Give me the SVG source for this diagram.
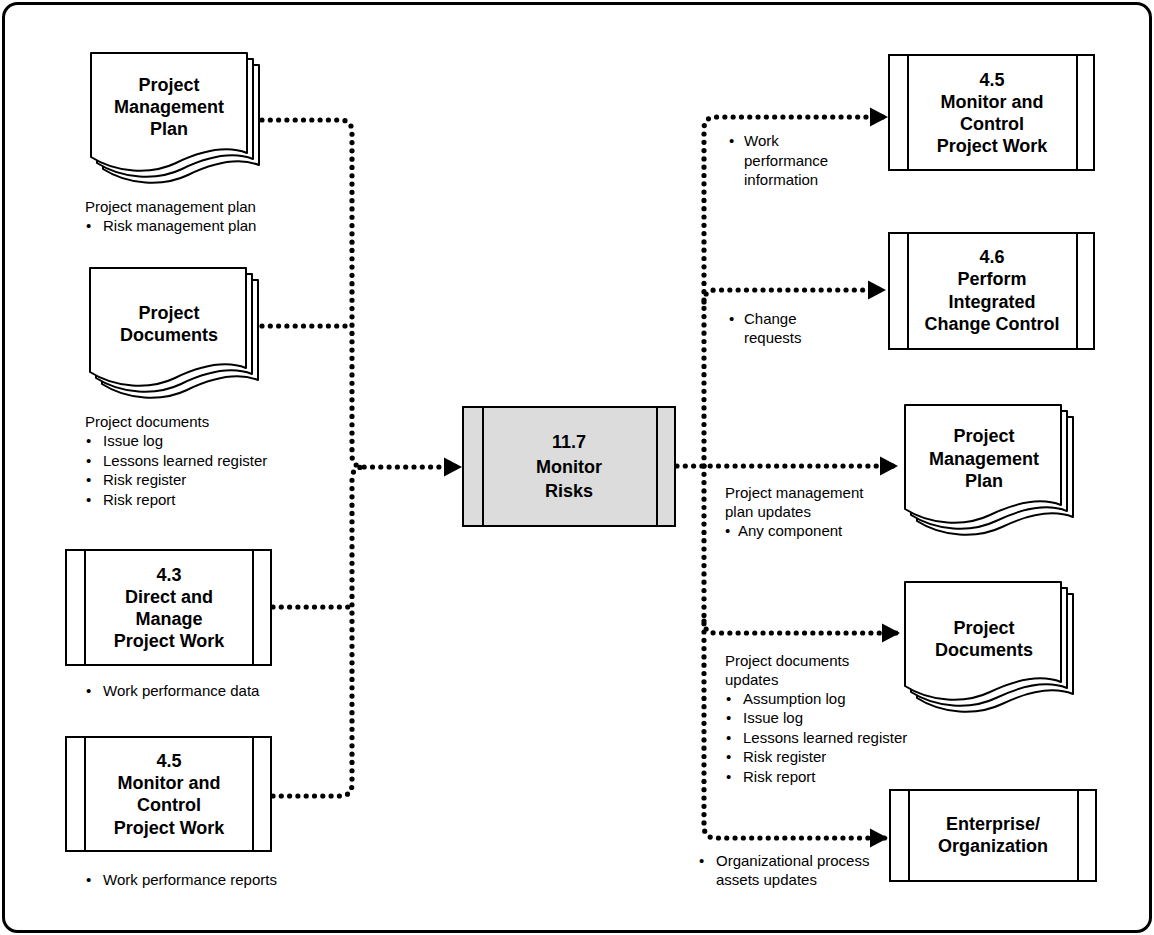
<svg xmlns="http://www.w3.org/2000/svg" xmlns:xlink="http://www.w3.org/1999/xlink" width="1154" height="935" viewBox="0 0 1154 935">
  <style>
    .frame { fill: #ffffff; stroke: #000000; stroke-width: 3; }
    .box { fill: #ffffff; stroke: #000000; stroke-width: 2; }
    .core { fill: #dcdcdc; stroke: #000000; stroke-width: 2; }
    .bar { stroke: #000000; stroke-width: 2; }
    .sheet { fill: #ffffff; stroke: #000000; stroke-width: 2; stroke-linejoin: round; }
    .title { font-family: "Liberation Sans", Arial, sans-serif; font-weight: bold; font-size: 18px; fill: #000000; text-anchor: middle; }
    .note { font-family: "Liberation Sans", Arial, sans-serif; font-size: 15px; fill: #000000; }
    .flow { fill: none; stroke: #000000; stroke-width: 5.2; stroke-linecap: round; stroke-linejoin: round; stroke-dasharray: 0 8.3; }
  </style>
  <defs>
    <!-- single document sheet, drawn from its top-left corner -->
    <path id="sheet" d="M0,0 H156 V100 C135,92 110,98 85,110 C60,122 25,120 0,104 Z"/>
    <marker id="head" markerUnits="userSpaceOnUse" markerWidth="20" markerHeight="20" refX="19" refY="10" orient="auto" viewBox="0 0 20 20">
      <path d="M1,0.5 L19,10 L1,19.5 Z" fill="#000000"/>
    </marker>
  </defs>

  <rect class="frame" x="3.5" y="3.5" width="1147" height="928" rx="14" ry="14"/>

  <!-- connectors -->
  <g id="connectors">
    <path class="flow" d="M262,120 H340 Q352,120 352,132 V455 Q352,467 364,467 H462" marker-end="url(#head)"/>
    <path class="flow" d="M273,796 H340 Q352,796 352,784 V479 Q352,467 364,467"/>
    <path class="flow" d="M262,326 H350"/>
    <path class="flow" d="M273,607 H350"/>
    <path class="flow" d="M677,466 H898" marker-end="url(#head)"/>
    <path class="flow" d="M704,466 V129 Q704,117 716,117 H888" marker-end="url(#head)"/>
    <path class="flow" d="M704,302 Q704,290 716,290 H886" marker-end="url(#head)"/>
    <path class="flow" d="M704,621 Q704,633 716,633 H900" marker-end="url(#head)"/>
    <path class="flow" d="M704,466 V826 Q704,838 716,838 H888" marker-end="url(#head)"/>
  </g>

  <!-- inputs -->
  <g id="in-pmp">
    <use href="#sheet" class="sheet" x="103" y="65"/>
    <use href="#sheet" class="sheet" x="97" y="59"/>
    <use href="#sheet" class="sheet" x="91" y="53"/>
    <text class="title" x="169" y="91">Project</text>
    <text class="title" x="169" y="113">Management</text>
    <text class="title" x="169" y="135">Plan</text>
    <text class="note" x="85" y="212">Project management plan</text>
    <text class="note" y="231"><tspan x="86">•</tspan><tspan x="103">Risk management plan</tspan></text>
  </g>

  <g id="in-docs">
    <use href="#sheet" class="sheet" x="102" y="280"/>
    <use href="#sheet" class="sheet" x="96" y="274"/>
    <use href="#sheet" class="sheet" x="90" y="268"/>
    <text class="title" x="169" y="319">Project</text>
    <text class="title" x="169" y="341">Documents</text>
    <text class="note" x="85" y="427">Project documents</text>
    <text class="note" y="446"><tspan x="86">•</tspan><tspan x="103">Issue log</tspan></text>
    <text class="note" y="466"><tspan x="86">•</tspan><tspan x="103">Lessons learned register</tspan></text>
    <text class="note" y="485"><tspan x="86">•</tspan><tspan x="103">Risk register</tspan></text>
    <text class="note" y="505"><tspan x="86">•</tspan><tspan x="103">Risk report</tspan></text>
  </g>

  <g id="in-4-3">
    <rect class="box" x="66" y="550" width="205" height="115"/>
    <line class="bar" x1="85" y1="550" x2="85" y2="665"/>
    <line class="bar" x1="253" y1="550" x2="253" y2="665"/>
    <text class="title" x="169" y="581">4.3</text>
    <text class="title" x="169" y="603">Direct and</text>
    <text class="title" x="169" y="625">Manage</text>
    <text class="title" x="169" y="647">Project Work</text>
    <text class="note" y="696"><tspan x="86">•</tspan><tspan x="103">Work performance data</tspan></text>
  </g>

  <g id="in-4-5">
    <rect class="box" x="66" y="737" width="205" height="114"/>
    <line class="bar" x1="85" y1="737" x2="85" y2="851"/>
    <line class="bar" x1="253" y1="737" x2="253" y2="851"/>
    <text class="title" x="169" y="767">4.5</text>
    <text class="title" x="169" y="789">Monitor and</text>
    <text class="title" x="169" y="811">Control</text>
    <text class="title" x="169" y="834">Project Work</text>
    <text class="note" y="885"><tspan x="86">•</tspan><tspan x="103">Work performance reports</tspan></text>
  </g>

  <!-- process -->
  <g id="proc-11-7">
    <rect class="core" x="463" y="407" width="212" height="119"/>
    <line class="bar" x1="483" y1="407" x2="483" y2="526"/>
    <line class="bar" x1="657" y1="407" x2="657" y2="526"/>
    <text class="title" x="569" y="448">11.7</text>
    <text class="title" x="569" y="473">Monitor</text>
    <text class="title" x="569" y="497">Risks</text>
  </g>

  <!-- outputs -->
  <g id="out-4-5">
    <rect class="box" x="889" y="55" width="205" height="115"/>
    <line class="bar" x1="908" y1="55" x2="908" y2="170"/>
    <line class="bar" x1="1077" y1="55" x2="1077" y2="170"/>
    <text class="title" x="992" y="86">4.5</text>
    <text class="title" x="992" y="108">Monitor and</text>
    <text class="title" x="992" y="130">Control</text>
    <text class="title" x="992" y="152">Project Work</text>
    <text class="note" y="146"><tspan x="729">•</tspan><tspan x="744">Work</tspan></text>
    <text class="note" x="744" y="166">performance</text>
    <text class="note" x="744" y="185">information</text>
  </g>

  <g id="out-4-6">
    <rect class="box" x="889" y="233" width="205" height="116"/>
    <line class="bar" x1="908" y1="233" x2="908" y2="349"/>
    <line class="bar" x1="1077" y1="233" x2="1077" y2="349"/>
    <text class="title" x="992" y="263">4.6</text>
    <text class="title" x="992" y="285">Perform</text>
    <text class="title" x="992" y="308">Integrated</text>
    <text class="title" x="992" y="330">Change Control</text>
    <text class="note" y="324"><tspan x="729">•</tspan><tspan x="744">Change</tspan></text>
    <text class="note" x="744" y="343">requests</text>
  </g>

  <g id="out-pmp">
    <use href="#sheet" class="sheet" x="917" y="417"/>
    <use href="#sheet" class="sheet" x="911" y="411"/>
    <use href="#sheet" class="sheet" x="905" y="405"/>
    <text class="title" x="984" y="442">Project</text>
    <text class="title" x="984" y="465">Management</text>
    <text class="title" x="984" y="487">Plan</text>
    <text class="note" x="725" y="498">Project management</text>
    <text class="note" x="725" y="517">plan updates</text>
    <text class="note" y="536"><tspan x="725">•</tspan><tspan x="738">Any component</tspan></text>
  </g>

  <g id="out-docs">
    <use href="#sheet" class="sheet" x="917" y="594"/>
    <use href="#sheet" class="sheet" x="911" y="588"/>
    <use href="#sheet" class="sheet" x="905" y="582"/>
    <text class="title" x="984" y="634">Project</text>
    <text class="title" x="984" y="656">Documents</text>
    <text class="note" x="725" y="666">Project documents</text>
    <text class="note" x="725" y="685">updates</text>
    <text class="note" y="704"><tspan x="726">•</tspan><tspan x="743">Assumption log</tspan></text>
    <text class="note" y="723"><tspan x="726">•</tspan><tspan x="743">Issue log</tspan></text>
    <text class="note" y="743"><tspan x="726">•</tspan><tspan x="743">Lessons learned register</tspan></text>
    <text class="note" y="762"><tspan x="726">•</tspan><tspan x="743">Risk register</tspan></text>
    <text class="note" y="782"><tspan x="726">•</tspan><tspan x="743">Risk report</tspan></text>
  </g>

  <g id="out-enterprise">
    <rect class="box" x="890" y="790" width="206" height="91"/>
    <line class="bar" x1="909" y1="790" x2="909" y2="881"/>
    <line class="bar" x1="1078" y1="790" x2="1078" y2="881"/>
    <text class="title" x="993" y="830">Enterprise/</text>
    <text class="title" x="993" y="852">Organization</text>
    <text class="note" y="866"><tspan x="699">•</tspan><tspan x="716">Organizational process</tspan></text>
    <text class="note" x="716" y="885">assets updates</text>
  </g>
</svg>
